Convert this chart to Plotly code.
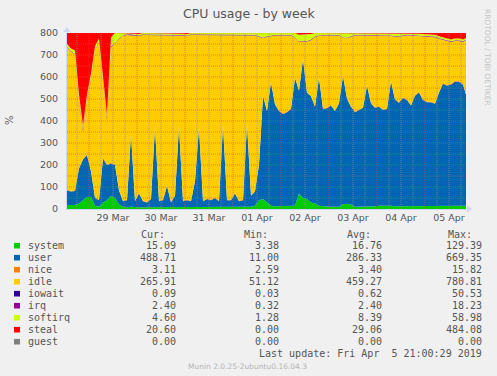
import pandas as pd
import plotly.graph_objects as go

# ---------------- data (2-hour samples, Mar 28 13:00 -> Apr 5 21:00) ----------------
start = "2019-03-28 13:00"
times = pd.date_range(start, periods=101, freq="2h")

system = [18, 18, 18, 25, 40, 55, 55, 15, 10, 30,
          40, 60, 50, 20, 10, 8, 10, 8, 8, 8,
          8, 8, 10, 8, 8, 8, 8, 8, 10, 8,
          8, 8, 8, 10, 8, 8, 8, 8, 8, 10,
          8, 8, 8, 8, 8, 10, 10, 15, 40, 45,
          30, 15, 12, 12, 12, 12, 12, 15, 70, 50,
          45, 30, 25, 15, 12, 10, 10, 10, 10, 22,
          24, 20, 10, 10, 10, 12, 12, 12, 15, 15,
          18, 15, 12, 12, 15, 15, 12, 12, 12, 12,
          12, 12, 12, 15, 15, 15, 15, 15, 15, 15,
          15]
user = [66, 62, 64, 159, 185, 190, 115, 35, 30, 200,
        160, 147, 150, 64, 25, 32, 330, 27, 62, 27,
        22, 37, 360, 27, 32, 97, 22, 52, 365, 27,
        32, 27, 117, 360, 27, 37, 32, 42, 27, 370,
        32, 32, 62, 27, 32, 375, 50, 65, 160, 469,
        415, 560, 463, 434, 420, 428, 443, 580, 467, 630,
        483, 482, 440, 580, 443, 448, 460, 436, 470, 583,
        476, 445, 430, 440, 450, 548, 468, 448, 450, 435,
        437, 565, 485, 471, 490, 480, 458, 503, 518, 483,
        473, 473, 466, 513, 555, 545, 551, 565, 563, 551,
        489]
nice = [3, 3, 3, 3, 3, 3, 3, 3, 3, 3,
        3, 3, 3, 3, 3, 3, 3, 3, 3, 3,
        3, 3, 3, 3, 3, 3, 3, 3, 3, 3,
        3, 3, 3, 3, 3, 3, 3, 3, 3, 3,
        3, 3, 3, 3, 3, 3, 3, 3, 3, 3,
        3, 3, 3, 3, 3, 3, 3, 3, 3, 3,
        3, 3, 3, 3, 3, 3, 3, 3, 3, 3,
        3, 3, 3, 3, 3, 3, 3, 3, 3, 3,
        3, 3, 3, 3, 3, 3, 3, 3, 3, 3,
        3, 3, 3, 3, 3, 3, 3, 3, 3, 3,
        3]
idle = [650, 632, 617, 311.5, 124, 254.5, 424, 669, 717, 356.5,
        202, 524.5, 554, 685, 749, 748, 448, 750, 714, 753,
        758, 743, 418, 753, 748, 683, 758, 728, 413, 750,
        744, 753, 663, 418, 753, 740, 748, 738, 753, 408,
        748, 748, 718, 751, 748, 403, 728, 706, 579, 260,
        334, 209, 311, 340, 354, 346, 331, 179, 221, 78,
        230, 252, 314, 189, 331, 328, 316, 340, 306, 169,
        274, 314, 346, 336, 326, 226, 306, 326, 321, 336,
        331, 204, 282, 299, 279, 291, 316, 271, 253, 286,
        296, 296, 300, 243, 196, 201, 190, 181, 183, 190,
        265]
iowait = [0.5, 0.5, 0.5, 0.5, 3, 0.5, 0.5, 0.5, 0.5, 0.5,
          3, 0.5, 0.5, 0.5, 0.5, 0.5, 0.5, 0.5, 0.5, 0.5,
          0.5, 0.5, 0.5, 0.5, 0.5, 0.5, 0.5, 0.5, 0.5, 0.5,
          0.5, 0.5, 0.5, 0.5, 0.5, 0.5, 0.5, 0.5, 0.5, 0.5,
          0.5, 0.5, 0.5, 0.5, 0.5, 0.5, 0.5, 0.5, 0.5, 0.5,
          0.5, 0.5, 0.5, 0.5, 0.5, 0.5, 0.5, 0.5, 0.5, 0.5,
          0.5, 0.5, 0.5, 0.5, 0.5, 0.5, 0.5, 0.5, 0.5, 0.5,
          0.5, 0.5, 0.5, 0.5, 0.5, 0.5, 0.5, 0.5, 0.5, 0.5,
          0.5, 0.5, 0.5, 0.5, 0.5, 0.5, 0.5, 0.5, 0.5, 0.5,
          0.5, 0.5, 0.5, 0.5, 0.5, 0.5, 0.5, 0.5, 0.5, 0.5,
          0.5]
irq = [2.5, 2.5, 2.5, 6, 10, 5, 2.5, 2.5, 2.5, 5,
       10, 5, 2.5, 2.5, 2.5, 2.5, 2.5, 2.5, 2.5, 2.5,
       2.5, 2.5, 2.5, 2.5, 2.5, 2.5, 2.5, 2.5, 2.5, 2.5,
       2.5, 2.5, 2.5, 2.5, 2.5, 2.5, 2.5, 2.5, 2.5, 2.5,
       2.5, 2.5, 2.5, 2.5, 2.5, 2.5, 2.5, 2.5, 2.5, 2.5,
       2.5, 2.5, 2.5, 2.5, 2.5, 2.5, 2.5, 2.5, 2.5, 2.5,
       2.5, 2.5, 2.5, 2.5, 2.5, 2.5, 2.5, 2.5, 2.5, 2.5,
       2.5, 2.5, 2.5, 2.5, 2.5, 2.5, 2.5, 2.5, 2.5, 2.5,
       2.5, 2.5, 2.5, 2.5, 2.5, 2.5, 2.5, 2.5, 2.5, 2.5,
       2.5, 2.5, 2.5, 2.5, 2.5, 2.5, 2.5, 2.5, 2.5, 2.5,
       2.5]
softirq = [10, 12, 15, 15, 15, 12, 15, 15, 12, 15,
           12, 40, 40, 25, 10, 6, 6, 6, 6, 6,
           6, 6, 6, 6, 6, 6, 6, 6, 6, 6,
           6, 6, 6, 6, 6, 6, 6, 6, 6, 6,
           6, 6, 6, 6, 6, 6, 6, 8, 15, 20,
           15, 10, 8, 8, 8, 8, 8, 20, 28, 28,
           28, 25, 15, 10, 8, 8, 8, 8, 8, 20,
           20, 15, 8, 8, 8, 8, 8, 8, 8, 8,
           8, 10, 15, 12, 10, 8, 8, 8, 8, 8,
           8, 8, 8, 8, 8, 8, 8, 8, 8, 8,
           5]
steal = [50, 70, 80, 280, 420, 280, 185, 60, 25, 190,
         370, 20, 0, 0, 0, 0, 0, 3, 4, 0,
         0, 0, 0, 0, 0, 0, 0, 0, 0, 3,
         4, 0, 0, 0, 0, 3, 0, 0, 0, 0,
         0, 0, 0, 2, 0, 0, 0, 0, 0, 0,
         0, 0, 0, 0, 0, 0, 0, 0, 8, 8,
         8, 5, 0, 0, 0, 0, 0, 0, 0, 0,
         0, 0, 0, 0, 0, 0, 0, 0, 0, 0,
         0, 0, 0, 0, 0, 0, 0, 0, 3, 5,
         5, 5, 8, 15, 20, 25, 30, 25, 25, 30,
         20]
guest = [0, 0, 0, 0, 0, 0, 0, 0, 0, 0,
         0, 0, 0, 0, 0, 0, 0, 0, 0, 0,
         0, 0, 0, 0, 0, 0, 0, 0, 0, 0,
         0, 0, 0, 0, 0, 0, 0, 0, 0, 0,
         0, 0, 0, 0, 0, 0, 0, 0, 0, 0,
         0, 0, 0, 0, 0, 0, 0, 0, 0, 0,
         0, 0, 0, 0, 0, 0, 0, 0, 0, 0,
         0, 0, 0, 0, 0, 0, 0, 0, 0, 0,
         0, 0, 0, 0, 0, 0, 0, 0, 0, 0,
         0, 0, 0, 0, 0, 0, 0, 0, 0, 0,
         0]

series_names = ["system", "user", "nice", "idle", "iowait", "irq", "softirq", "steal", "guest"]
series_colors = ["#00CC00", "#0066B3", "#FF8000", "#FFCC00", "#330099",
                 "#990099", "#CCFF00", "#FF0000", "#808080"]
series_values = [system, user, nice, idle, iowait, irq, softirq, steal, guest]

col_headers = ["Cur:", "Min:", "Avg:", "Max:"]
stat_cur = ["15.09", "488.71", "3.11", "265.91", "0.09", "2.40", "4.60", "20.60", "0.00"]
stat_min = ["3.38", "11.00", "2.59", "51.12", "0.03", "0.32", "1.28", "0.00", "0.00"]
stat_avg = ["16.76", "286.33", "3.40", "459.27", "0.62", "2.40", "8.39", "29.06", "0.00"]
stat_max = ["129.39", "669.35", "15.82", "780.81", "50.53", "18.23", "58.98", "484.08", "0.00"]

day_labels = ["29 Mar", "30 Mar", "31 Mar", "01 Apr", "02 Apr", "03 Apr", "04 Apr", "05 Apr"]
day_noons = pd.date_range("2019-03-29 12:00", periods=8, freq="1D")
y_ticks = [0, 100, 200, 300, 400, 500, 600, 700, 800]

x_start = pd.Timestamp("2019-03-28 13:00")
x_end = pd.Timestamp("2019-04-05 20:30")

# ---------------- layout geometry ----------------
W, H = 497, 376
L, R, T, B = 67, 31, 33, 167
PW, PH = W - L - R, H - T - B


def px(x):
    return (x - L) / PW


def py(y):
    return (H - B - y) / PH


FONT = "DejaVu Sans"
MONO = "DejaVu Sans Mono"
TXT = "#555555"

fig = go.Figure()
for name, vals, col in zip(series_names, series_values, series_colors):
    fig.add_trace(go.Scatter(
        x=times, y=vals, name=name, mode="lines", stackgroup="cpu",
        line=dict(width=0, color=col), fillcolor=col,
        showlegend=False, hoverinfo="skip"))

shapes = []
# grid drawn above the areas (as rrdtool does)
for t in pd.date_range("2019-03-28 18:00", "2019-04-05 18:00", freq="6h"):
    major = t.hour == 0
    shapes.append(dict(type="line", xref="x", yref="paper", x0=t, x1=t, y0=0, y1=1,
                       layer="above",
                       line=dict(width=1, dash="1px,1px",
                                 color="rgba(222,79,79,0.6)" if major else "rgba(143,143,143,0.75)")))
for v in range(50, 801, 50):
    shapes.append(dict(type="line", xref="paper", yref="y", x0=0, x1=1, y0=v, y1=v,
                       layer="above",
                       line=dict(width=1, dash="1px,1px", color="rgba(222,79,79,0.6)")))
# axis arrows
shapes.append(dict(type="path", xref="paper", yref="paper", layer="above",
                   path=f"M {px(467)} {py(205.5)} L {px(472)} {py(209)} L {px(467)} {py(212.5)} Z",
                   fillcolor="#CFD6F8", line=dict(width=0)))
shapes.append(dict(type="path", xref="paper", yref="paper", layer="above",
                   path=f"M {px(63.5)} {py(32)} L {px(67)} {py(27)} L {px(70.5)} {py(32)} Z",
                   fillcolor="#CFD6F8", line=dict(width=0)))
shapes.append(dict(type="line", xref="paper", yref="paper", layer="above",
                   x0=1, x1=px(468), y0=0, y1=0, line=dict(width=1, color="#CFD6F8")))

annotations = []


def text(x, y, s, size=10, family=FONT, color=TXT, xanchor="center", angle=0):
    annotations.append(dict(x=px(x), y=py(y), xref="paper", yref="paper", text=s,
                            showarrow=False, xanchor=xanchor, yanchor="middle",
                            textangle=angle, borderpad=0,
                            font=dict(family=family, size=size, color=color)))


text(248.5, 13, "CPU usage - by week", size=12.5)
text(10, 120, "%", size=10, angle=-90)
text(488, 57, "RRDTOOL / TOBI OETIKER", size=7.5, color="#C4C4C4", angle=90)
text(247, 366, "Munin 2.0.25-2ubuntu0.16.04.3", size=7.5, color="#B4B4B4")

# legend table
head_x = [140, 243, 346, 447]
col_right = [176.5, 279.5, 382.5, 483]
for hx, h in zip(head_x, col_headers):
    text(hx, 234, h, family=MONO, xanchor="left")
for k, name in enumerate(series_names):
    ry = 245.7 + 12 * k
    shapes.append(dict(type="rect", xref="paper", yref="paper",
                       x0=px(14), x1=px(20), y0=py(ry - 2.8), y1=py(ry + 2.8),
                       fillcolor=series_colors[k], line=dict(width=0)))
    text(27, ry, name, family=MONO, xanchor="left")
    for cx, col in zip(col_right, [stat_cur, stat_min, stat_avg, stat_max]):
        text(cx, ry, col[k], family=MONO, xanchor="right")
text(483, 353.5, "Last update: Fri Apr\u00a0 5 21:00:29 2019", family=MONO, xanchor="right")

fig.update_layout(
    width=W, height=H,
    margin=dict(l=L, r=R, t=T, b=B, pad=0),
    paper_bgcolor="#F0F0F0", plot_bgcolor="#FFFFFF",
    showlegend=False,
    shapes=shapes, annotations=annotations,
    xaxis=dict(type="date", range=[x_start, x_end], showgrid=False, zeroline=False,
               tickmode="array", tickvals=day_noons, ticktext=day_labels,
               ticks="", showline=True, linecolor="#CFD6F8", linewidth=1,
               tickfont=dict(family=FONT, size=9.5, color=TXT), fixedrange=True),
    yaxis=dict(range=[0, 800], showgrid=False, zeroline=False,
               tickmode="array", tickvals=y_ticks, ticks="",
               ticklabelstandoff=6,
               showline=True, linecolor="#CFD6F8", linewidth=1,
               tickfont=dict(family=FONT, size=9.5, color=TXT), fixedrange=True),
)

fig.write_html("out.html", config={"displayModeBar": False, "staticPlot": True},
               post_script="document.body.style.margin='0';document.body.style.background='#F0F0F0';")
